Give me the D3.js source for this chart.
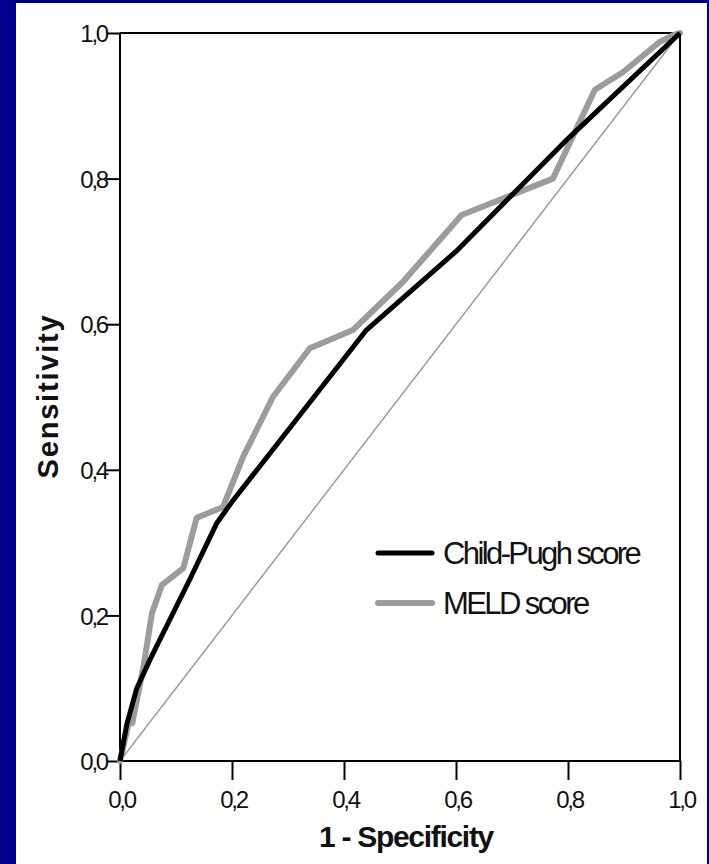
<!DOCTYPE html>
<html>
<head>
<meta charset="utf-8">
<script src="https://cdn.jsdelivr.net/npm/d3@7"></script>
<style>
  body { margin: 0; background: #00008b; }
  svg { display: block; }
  .tick-label { font-family: "Liberation Sans", Arial, sans-serif; font-size: 24px; letter-spacing: -2.2px; fill: #111; }
  .axis-title { font-family: "Liberation Sans", Arial, sans-serif; font-weight: bold; fill: #111; }
  .legend-label { font-family: "Liberation Sans", Arial, sans-serif; font-size: 31px; letter-spacing: -2.6px; fill: #111; }
</style>
</head>
<body>
<script>
// ROC curves: [1 - specificity, sensitivity]
var childPugh = [
    [0, 0], [0.012, 0.05], [0.03, 0.1], [0.054, 0.14], [0.125, 0.25],
    [0.173, 0.327], [0.2, 0.356], [0.44, 0.592], [0.6, 0.7], [0.8, 0.855], [1, 1]
];
var meld = [
    [0, 0], [0.012, 0.04], [0.015, 0.052], [0.022, 0.052], [0.042, 0.13],
    [0.057, 0.203], [0.075, 0.242], [0.113, 0.265], [0.137, 0.334], [0.184, 0.349],
    [0.22, 0.418], [0.273, 0.5], [0.339, 0.567], [0.416, 0.592], [0.505, 0.658],
    [0.61, 0.75], [0.773, 0.8], [0.848, 0.922], [0.898, 0.946], [0.964, 0.988],
    [0.988, 0.997], [1, 1]
];
var reference = [[0, 0], [1, 1]];

var xTicks = [0, 0.2, 0.4, 0.6, 0.8, 1.0];
var yTicks = [0, 0.2, 0.4, 0.6, 0.8, 1.0];
var legendLabels = ["Child-Pugh score", "MELD score"];
var seriesColors = ["#000000", "#9c9c9c"];

var width = 709,
    height = 864;

var x = d3.scaleLinear().domain([0, 1]).range([120, 680]);
var y = d3.scaleLinear().domain([0, 1]).range([761, 33]);

var fmt = function(d) { return d3.format(".1f")(d).replace(".", ","); };

var svg = d3.select("body")
    .append("svg")
    .attr("width", width)
    .attr("height", height);

// white panel inside the navy frame
svg.append("rect")
    .attr("x", 16)
    .attr("y", 3)
    .attr("width", 691)
    .attr("height", height - 3)
    .attr("fill", "#fff");

var line = d3.line()
    .x(function(d) { return x(d[0]); })
    .y(function(d) { return y(d[1]); });

// frame lines (top and right)
svg.append("line")
    .attr("x1", x(0)).attr("x2", x(1))
    .attr("y1", y(1)).attr("y2", y(1))
    .attr("stroke", "#000").attr("stroke-width", 2);
svg.append("line")
    .attr("x1", x(1)).attr("x2", x(1))
    .attr("y1", y(1)).attr("y2", y(0))
    .attr("stroke", "#000").attr("stroke-width", 2);

var xAxis = svg.append("g")
    .attr("transform", "translate(0," + y(0) + ")")
    .call(d3.axisBottom(x).tickValues(xTicks).tickSize(19).tickFormat(fmt));

var yAxis = svg.append("g")
    .attr("transform", "translate(" + x(0) + ",0)")
    .call(d3.axisLeft(y).tickValues(yTicks).tickSize(14).tickFormat(fmt));

[xAxis, yAxis].forEach(function(ax) {
    ax.select(".domain").attr("stroke", "#000").attr("stroke-width", 2);
    ax.selectAll(".tick line").attr("stroke", "#000").attr("stroke-width", 2);
    ax.selectAll(".tick text")
        .attr("class", "tick-label")
        .attr("font-size", null)
        .attr("font-family", null)
        .attr("fill", null);
});
xAxis.select(".domain").attr("d", "M" + x(0) + ",0H" + x(1));
xAxis.selectAll(".tick text").attr("y", 30).attr("dy", "0.71em").attr("dx", "1px");
yAxis.select(".domain").attr("d", "M0," + y(0) + "V" + y(1));
yAxis.selectAll(".tick text").attr("x", -13).attr("dy", "0.36em");

// diagonal reference
svg.append("path")
    .datum(reference)
    .attr("d", line)
    .attr("fill", "none")
    .attr("stroke", "#9c9c9c")
    .attr("stroke-width", 1.5);

svg.append("path")
    .datum(meld)
    .attr("d", line)
    .attr("fill", "none")
    .attr("stroke", seriesColors[1])
    .attr("stroke-width", 6)
    .attr("stroke-linejoin", "round")
    .attr("stroke-linecap", "round");

svg.append("path")
    .datum(childPugh)
    .attr("d", line)
    .attr("fill", "none")
    .attr("stroke", seriesColors[0])
    .attr("stroke-width", 5)
    .attr("stroke-linejoin", "round");

// axis titles
svg.append("text")
    .attr("class", "axis-title")
    .attr("x", 406)
    .attr("y", 847)
    .attr("text-anchor", "middle")
    .style("font-size", "30px")
    .style("letter-spacing", "-1.3px")
    .text("1 - Specificity");

svg.append("text")
    .attr("class", "axis-title")
    .attr("transform", "translate(58,396) rotate(-90)")
    .attr("text-anchor", "middle")
    .style("font-size", "29px")
    .style("letter-spacing", "1.8px")
    .text("Sensitivity");

// legend
var legend = svg.selectAll("g.legend")
    .data(legendLabels)
    .enter()
    .append("g")
    .attr("class", "legend")
    .attr("transform", function(d, i) { return "translate(378," + (553 + i * 50) + ")"; });

legend.append("line")
    .attr("x1", 0).attr("x2", 54)
    .attr("stroke", function(d, i) { return seriesColors[i]; })
    .attr("stroke-width", function(d, i) { return i === 0 ? 5 : 6; })
    .attr("stroke-linecap", "round");

legend.append("text")
    .attr("class", "legend-label")
    .attr("x", 65)
    .attr("y", 11)
    .text(function(d) { return d; });
</script>
</body>
</html>
